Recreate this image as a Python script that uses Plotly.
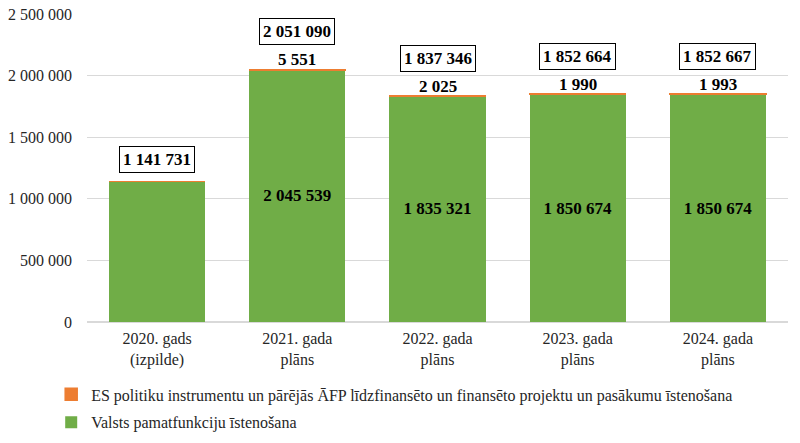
import plotly.graph_objects as go

categories = ["2020. gads<br>(izpilde)", "2021. gada<br>plāns", "2022. gada<br>plāns",
              "2023. gada<br>plāns", "2024. gada<br>plāns"]
green_name = "Valsts pamatfunkciju īstenošana"
orange_name = "ES politiku instrumentu un pārējās ĀFP līdzfinansēto un finansēto projektu un pasākumu īstenošana"
green_vals = [1141731, 2045539, 1835321, 1850674, 1850674]
orange_vals = [0, 5551, 2025, 1990, 1993]
totals = [1141731, 2051090, 1837346, 1852664, 1852667]

def fmt(v):
    return f"{v:,}".replace(",", " ")

FONT = "Times New Roman"

green_text = [fmt(g) if o > 0 else "" for g, o in zip(green_vals, orange_vals)]

fig = go.Figure()
fig.add_trace(go.Bar(
    x=categories, y=green_vals, name=green_name, legendgroup="g", legendrank=2,
    marker=dict(color="#70AD47", line=dict(width=0)),
    text=green_text, textposition="inside",
    insidetextanchor="middle", textangle=0,
    textfont=dict(family=FONT, size=17, color="black", weight="bold"),
))
fig.add_trace(go.Bar(
    x=categories, y=orange_vals, name=orange_name, legendgroup="o", legendrank=1,
    marker=dict(color="#ED7D31", line=dict(width=1.5, color="#ED7D31")),
))

annotations = []
for c, o, g, t in zip(categories, orange_vals, green_vals, totals):
    if o > 0:
        annotations.append(dict(x=c, y=t, text=f"<b>{fmt(o)}</b>", showarrow=False,
                                yanchor="bottom", yshift=-2,
                                font=dict(family=FONT, size=17, color="black")))
        shift = 24
    else:
        shift = 8
    annotations.append(dict(x=c, y=t, text=f"<b>{fmt(t)}</b>", showarrow=False,
                            yanchor="bottom", yshift=shift,
                            bordercolor="black", borderwidth=1, borderpad=3,
                            bgcolor="white",
                            font=dict(family=FONT, size=17, color="black")))

fig.update_layout(
    width=800, height=443,
    barmode="stack", bargap=0.315,
    separators=", ",
    plot_bgcolor="white", paper_bgcolor="white",
    margin=dict(l=87, r=12, t=14, b=121, autoexpand=False),
    font=dict(family=FONT, size=16, color="#262626"),
    yaxis=dict(range=[0, 2500000], dtick=500000, tickformat=",d",
               gridcolor="#D9D9D9", gridwidth=1, zeroline=True, zerolinecolor="#D9D9D9",
               showline=False, ticks="", ticklabelstandoff=14,
               tickfont=dict(family=FONT, size=16, color="#262626")),
    xaxis=dict(showline=False, ticks="", ticklabelstandoff=5,
               tickfont=dict(family=FONT, size=16, color="#262626")),
    legend=dict(orientation="v", x=0.064, xref="container", xanchor="left",
                y=0.148, yref="container", yanchor="top",
                traceorder="grouped", font=dict(family=FONT, size=16, color="#262626"),
                tracegroupgap=4),
    annotations=annotations,
    showlegend=True,
)

fig.write_html("out.html")
